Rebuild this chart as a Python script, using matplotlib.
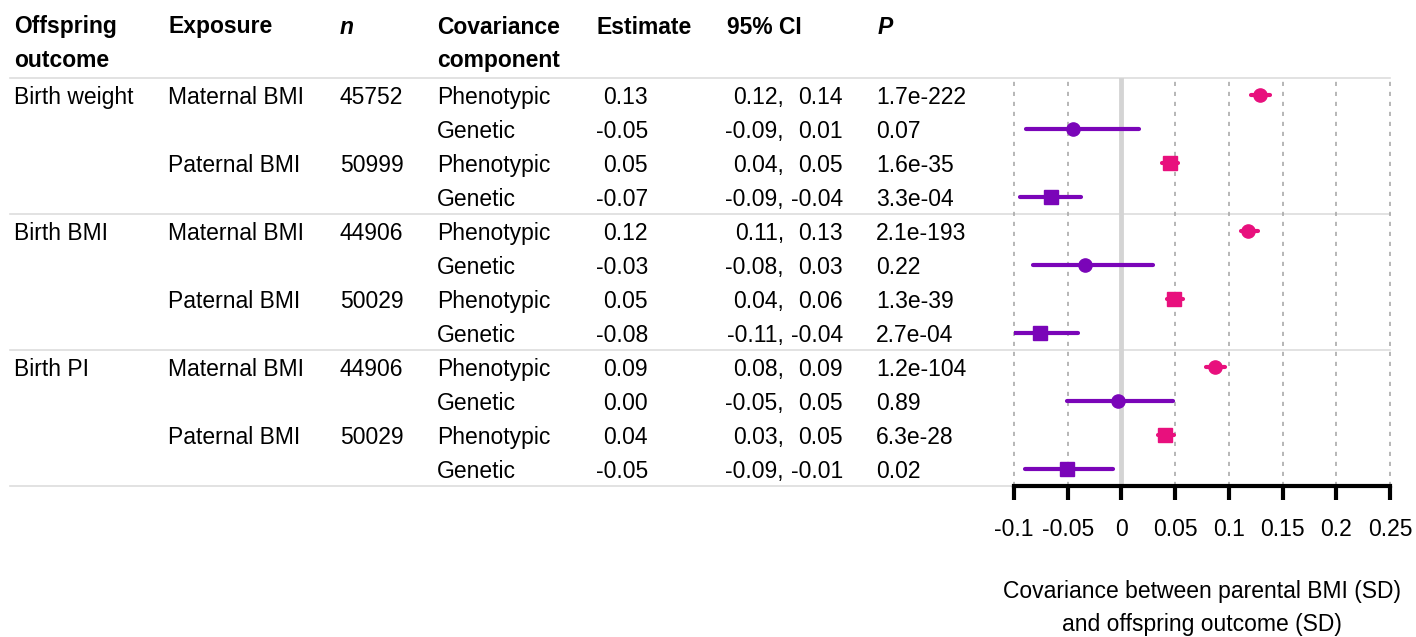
import numpy as np
import matplotlib
matplotlib.use("Agg")
import matplotlib.pyplot as plt

plt.rcParams['font.family'] = ['Liberation Sans', 'DejaVu Sans']

# table text (as printed in the figure)
outcome = ["Birth weight", "", "", "", "Birth BMI", "", "", "", "Birth PI", "", "", ""]
exposure = ["Maternal BMI", "", "Paternal BMI", "",
            "Maternal BMI", "", "Paternal BMI", "",
            "Maternal BMI", "", "Paternal BMI", ""]
n_txt = ["45752", "", "50999", "", "44906", "", "50029", "", "44906", "", "50029", ""]
component = ["Phenotypic", "Genetic"] * 6
est_txt = ["0.13", "-0.05", "0.05", "-0.07", "0.12", "-0.03", "0.05", "-0.08",
           "0.09", "0.00", "0.04", "-0.05"]
lo_txt = ["0.12", "-0.09", "0.04", "-0.09", "0.11", "-0.08", "0.04", "-0.11",
          "0.08", "-0.05", "0.03", "-0.09"]
hi_txt = ["0.14", "0.01", "0.05", "-0.04", "0.13", "0.03", "0.06", "-0.04",
          "0.09", "0.05", "0.05", "-0.01"]
p_txt = ["1.7e-222", "0.07", "1.6e-35", "3.3e-04", "2.1e-193", "0.22", "1.3e-39",
         "2.7e-04", "1.2e-104", "0.89", "6.3e-28", "0.02"]

# plotted values
est = [0.129, -0.045, 0.045, -0.066, 0.118, -0.034, 0.049, -0.076, 0.087, -0.003, 0.041, -0.051]
lo = [0.121, -0.089, 0.038, -0.094, 0.111, -0.082, 0.042, -0.110, 0.079, -0.051, 0.034, -0.090]
hi = [0.138, 0.016, 0.053, -0.038, 0.127, 0.029, 0.057, -0.040, 0.096, 0.048, 0.049, -0.008]
parent = ["Maternal", "Maternal", "Paternal", "Paternal"] * 3

xticks = [-0.1, -0.05, 0, 0.05, 0.1, 0.15, 0.2, 0.25]
xticklabels = ["-0.1", "-0.05", "0", "0.05", "0.1", "0.15", "0.2", "0.25"]

col_pheno = "#E8107D"
col_gen = "#7A05B8"
W, H = 1416, 637
fs = 16.5

fig = plt.figure(figsize=(W / 100, H / 100), dpi=100)
bot = 1 - 486 / H
hgt = 408 / H
rows = np.arange(len(est))

# table panel: x in pixels, y in rows
tab = fig.add_axes([0, bot, 1, hgt])
tab.set_xlim(0, W)
tab.set_ylim(11.5, -0.5)
tab.axis("off")

for yline in [-0.5, 3.5, 7.5, 11.5]:
    tab.plot([10, 1390], [yline, yline], color="#dddddd", lw=1.2, clip_on=False, zorder=0)

hdr = dict(fontsize=fs, fontweight="bold", va="center", clip_on=False)
tab.text(14, -2.0, "Offspring", **hdr)
tab.text(14, -1.02, "outcome", **hdr)
tab.text(168, -2.0, "Exposure", **hdr)
tab.text(340, -2.0, "n", style="italic", **hdr)
tab.text(437, -2.0, "Covariance", **hdr)
tab.text(437, -1.02, "component", **hdr)
tab.text(597, -2.0, "Estimate", **hdr)
tab.text(727, -2.0, "95% CI", **hdr)
tab.text(878, -2.0, "P", style="italic", **hdr)

cell = dict(fontsize=fs, va="center")
for i in rows:
    y = i + 0.08
    tab.text(14, y, outcome[i], **cell)
    tab.text(168, y, exposure[i], **cell)
    tab.text(340, y, n_txt[i], **cell)
    tab.text(437, y, component[i], **cell)
    tab.text(648, y, est_txt[i], ha="right", **cell)
    tab.text(784, y, lo_txt[i] + ",", ha="right", **cell)
    tab.text(843, y, hi_txt[i], ha="right", **cell)
    tab.text(876, y, p_txt[i], **cell)

# forest panel
ax = fig.add_axes([1014 / W, bot, 376 / W, hgt])
ax.set_xlim(-0.1, 0.25)
ax.set_ylim(11.5, -0.5)
ax.patch.set_alpha(0)
for s in ["top", "left", "right"]:
    ax.spines[s].set_visible(False)
ax.spines["bottom"].set_linewidth(3)
ax.spines["bottom"].set_capstyle("projecting")
ax.set_yticks([])
ax.set_xticks(xticks)
ax.set_xticklabels(xticklabels, fontsize=fs)
ax.tick_params(axis="x", length=10, width=3, pad=13)
for xt in xticks:
    ax.axvline(xt, color="#aaaaaa", lw=1.2, ls=(0, (2.5, 3.5)), zorder=0, clip_on=False)
ax.axvline(0, color="#d4d4d4", lw=3.5, zorder=1)

for i in rows:
    c = col_pheno if component[i] == "Phenotypic" else col_gen
    m = "o" if parent[i] == "Maternal" else "s"
    ax.plot([lo[i], hi[i]], [i, i], color=c, lw=3, solid_capstyle="round", zorder=3)
    ax.plot(est[i], i, marker=m, color=c, ms=9.5, mec=c, zorder=4, ls="none")

ax.set_xlabel("Covariance between parental BMI (SD)\nand offspring outcome (SD)",
              fontsize=fs, labelpad=28, linespacing=1.55)

fig.savefig("out.png", dpi=100)
